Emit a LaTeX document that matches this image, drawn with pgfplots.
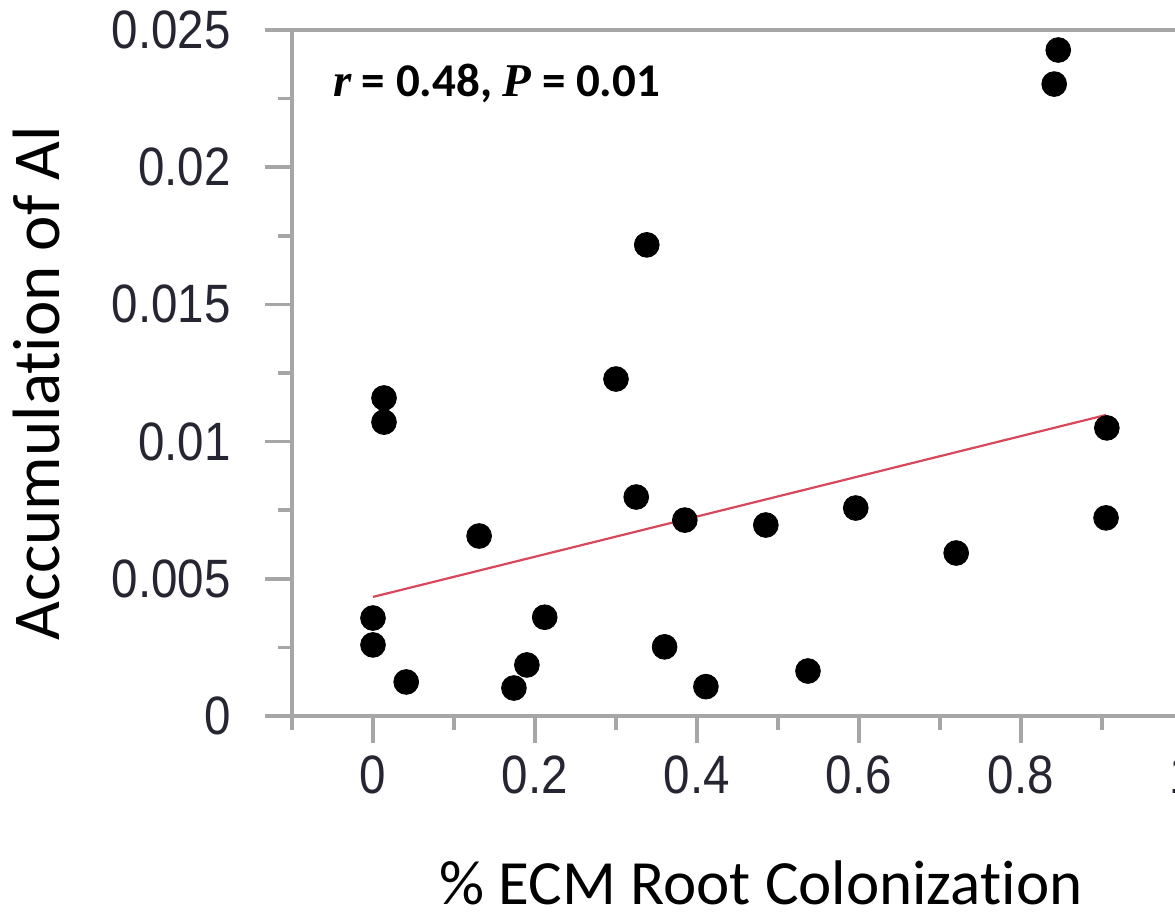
\documentclass[border=0pt]{standalone}
\usepackage{pgfplots}
\pgfplotsset{compat=1.18}
\usepackage{fontspec}
\setmainfont{Carlito}[Ligatures={NoCommon}]
\newfontfamily\tickfont{Liberation Sans}
\newfontfamily\italfont{Liberation Serif}

\definecolor{axisgray}{HTML}{A6A6A6}
\definecolor{fitred}{HTML}{D9475B}
\definecolor{tickcol}{HTML}{262633}

% ECM colonization (fraction) vs. Al accumulation
\pgfplotstableread{
x      y
0.000  0.00357
0.000  0.00259
0.0136 0.01159
0.0136 0.01071
0.041  0.00124
0.131  0.00656
0.174  0.00102
0.190  0.00186
0.212  0.00360
0.300  0.01228
0.325  0.00798
0.338  0.01717
0.360  0.00252
0.385  0.00714
0.411  0.00107
0.485  0.00696
0.537  0.00164
0.596  0.00758
0.720  0.00594
0.841  0.02303
0.846  0.02427
0.905  0.00722
0.906  0.01050
}\alData

\begin{document}
\begin{tikzpicture}
\begin{axis}[
  at={(0,0)}, anchor=south west,
  scale only axis, width=486pt, height=343pt,
  xmin=-0.1, xmax=1.1, ymin=0, ymax=0.025,
  axis line style={draw=axisgray, line width=1.8pt},
  xtick={0,0.2,0.4,0.6,0.8,1},
  xticklabels={0,0.2,0.4,0.6,0.8,1},
  minor xtick={-0.1,0.1,0.3,0.5,0.7,0.9},
  ytick={0,0.005,0.01,0.015,0.02,0.025},
  yticklabels={0,0.005,0.01,0.015,0.02,0.025},
  minor ytick={0.0025,0.0075,0.0125,0.0175,0.0225},
  scaled ticks=false,
  tick align=outside, xtick pos=left, ytick pos=left,
  major tick length=13.5pt, minor tick length=7pt,
  tick style={draw=axisgray, line width=1.8pt},
  tick label style={font=\tickfont\fontsize{27}{27}\selectfont, text=tickcol, xscale=0.88},
  xticklabel style={yshift=-3pt},
  yticklabel style={xshift=-16pt},
  xlabel={\% ECM Root Colonization},
  ylabel={Accumulation of Al},
  every axis x label/.style={at={(axis description cs:0.4825,-0.2755)}, anchor=base,
    font=\fontsize{31.5}{31.5}\selectfont},
  every axis y label/.style={at={(axis description cs:-0.2387,0.485)}, rotate=90, anchor=base,
    font=\fontsize{33.5}{33.5}\selectfont},
  clip=false,
]
\addplot[only marks, mark=*, mark size=6.2pt, black] table[x=x, y=y] {\alData};
\addplot[fitred, line width=1.1pt] coordinates {(0,0.00434) (0.905,0.01097)};
\node[anchor=base west, font=\bfseries\fontsize{23.5}{23.5}\selectfont]
  at (axis cs:-0.058,0.02256)
  {{\italfont\bfseries\itshape r} = 0.48, {\italfont\bfseries\itshape P} = 0.01};
\end{axis}
\pgfresetboundingbox
\path[use as bounding box] (-146pt,-101pt) rectangle (441.5pt,358pt);
\end{tikzpicture}
\end{document}
